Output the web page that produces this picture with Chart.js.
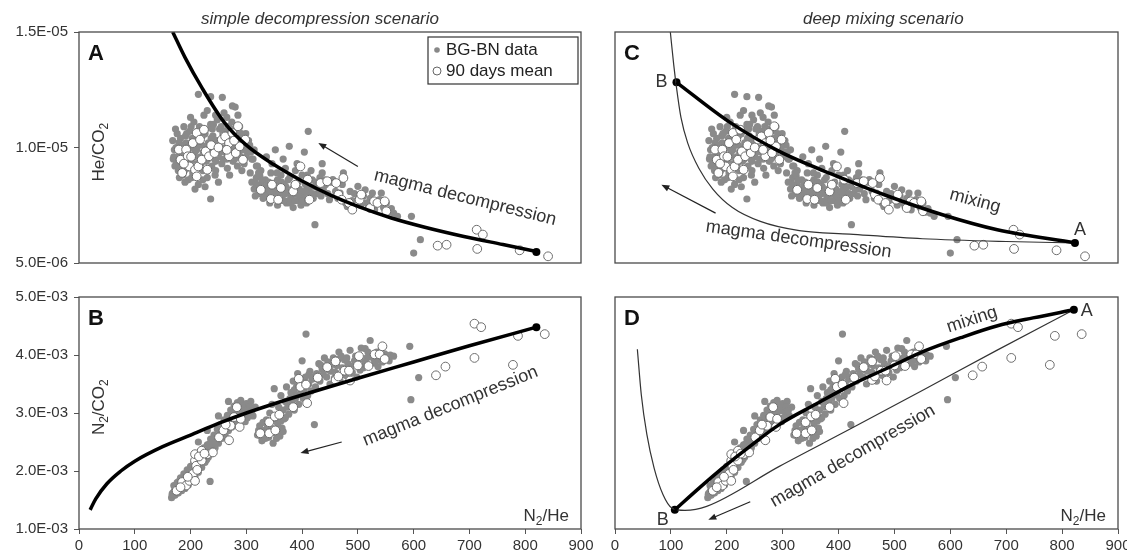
<!DOCTYPE html>
<html>
<head>
<meta charset="utf-8">
<script src="https://cdn.jsdelivr.net/npm/chart.js@4.4.1/dist/chart.umd.min.js"></script>
<style>
  html, body { margin: 0; padding: 0; background: #fff; overflow: hidden; }
  .panel { position: absolute; left: 0; top: 0; width: 1160px; height: 553px; }
</style>
</head>
<body>
<div class="panel"><canvas id="panelA" width="1160" height="553"></canvas></div>
<div class="panel"><canvas id="panelB" width="1160" height="553"></canvas></div>
<div class="panel"><canvas id="panelC" width="1160" height="553"></canvas></div>
<div class="panel"><canvas id="panelD" width="1160" height="553"></canvas></div>
<script>
// ---- axes ----
const xTicks = [0, 100, 200, 300, 400, 500, 600, 700, 800, 900];
const heTicks = [5, 10, 15];                       // He/CO2 in units of 1E-06
const heTickLabels = ['5.0E-06', '1.0E-05', '1.5E-05'];
const n2Ticks = [1, 2, 3, 4, 5];                   // N2/CO2 in units of 1E-03
const n2TickLabels = ['1.0E-03', '2.0E-03', '3.0E-03', '4.0E-03', '5.0E-03'];

// ---- BG-BN data, He/CO2 vs N2/He (top panels) ----
const bgbnN2HeTop = [168,170,172,174,176,178,180,182,184,186,
  188,190,192,194,196,198,200,202,204,206,
  208,210,212,214,216,218,220,222,224,226,
  228,230,232,234,236,238,240,242,244,246,
  248,250,252,254,256,258,260,262,264,266,
  268,270,272,274,276,278,280,282,284,286,
  288,290,293,296,299,302,306,310,314,318,
  214,236,257,280,236,208,190,270,250,226,
  200,230,245,265,285,275,
  171,175,179,183,187,191,195,199,203,207,
  211,215,219,223,227,231,235,239,243,247,
  251,255,259,263,267,271,275,279,283,287,291,295,
  307,310,314,318,320,322,326,330,334,336,
  338,342,344,346,350,352,354,356,358,362,
  364,366,368,372,374,377,378,380,384,386,
  388,391,392,395,398,400,402,404,406,408,
  411,412,416,418,420,423,424,428,432,436,438,
  316,324,332,340,348,356,360,370,376,382,390,396,410,414,326,312,346,370,
  436,442,446,449,452,455,460,464,468,472,
  474,478,481,486,490,494,500,500,505,510,
  513,516,519,522,526,530,534,539,542,546,
  551,556,560,564,571,596,612,600,
  169,173,177,181,185,189,193,197,201,205,
  209,213,217,221,225,229,233,237,241,245,
  249,253,257,261,265,269,273,277,281,285,
  289,292,297,300,304,308,180,202,222,245,
  318,322,328,333,338,343,347,352,355,359,
  363,367,371,375,379,383,387,393,397,401,
  405,409,415,419,425,430,434,440];
const bgbnHeCO2 = [10.3,9.6,9.2,10.0,10.6,9.0,9.9,10.4,9.4,8.8,
  10.9,9.7,10.2,9.1,8.6,10.7,9.5,10.0,8.9,11.1,
  9.8,10.4,9.3,8.4,10.9,9.6,10.1,9.0,11.4,10.6,
  9.4,8.7,10.2,9.8,11.0,9.2,10.5,9.9,8.8,10.3,
  11.2,9.6,10.8,10.0,9.3,10.6,11.5,9.8,10.3,9.1,
  10.9,9.7,10.4,11.1,9.4,10.1,10.7,9.9,9.2,10.4,
  10.9,9.6,10.2,9.3,10.6,9.8,10.1,9.5,9.9,9.2,
  12.3,12.2,12.17,11.75,7.77,8.2,8.5,8.8,8.5,8.3,
  11.3,11.6,11.4,11.3,11.4,11.8,
  9.9,9.3,10.2,9.7,9.3,10.5,9.8,9.2,10.4,9.6,
  9.9,10.2,9.3,9.8,10.8,9.5,10.0,10.8,9.5,9.9,
  10.3,10.9,9.5,10.0,9.6,10.8,10.3,9.5,10.0,9.8,10.6,9.9,
  8.9,8.5,8.2,8.7,9.2,8.0,8.4,7.8,8.6,9.6,
  8.1,7.6,8.9,8.3,7.9,9.9,8.5,7.5,8.2,8.8,
  7.8,9.5,8.4,7.6,8.1,10.05,8.7,7.9,7.4,8.4,
  9.0,9.3,7.7,8.2,7.5,8.8,7.9,9.8,8.4,7.6,
  10.7,8.1,9.0,8.6,7.8,6.66,8.3,8.0,8.7,9.3,8.2,
  7.9,8.8,8.2,8.5,8.0,8.6,7.7,8.0,7.7,8.2,8.0,7.8,8.3,7.9,9.0,9.5,9.3,9.1,
  8.9,8.4,8.0,7.74,8.5,8.61,8.1,7.8,8.03,8.4,
  8.9,7.6,7.45,8.1,7.7,8.0,8.32,7.74,7.5,7.9,
  8.17,7.6,7.45,7.8,8.03,7.3,7.6,7.74,8.03,7.4,
  7.6,7.2,7.35,7.16,7.02,7.02,6.01,5.43,
  9.5,10.8,9.6,9.1,10.1,9.0,10.6,9.4,10.9,9.3,
  10.1,10.7,9.1,10.5,9.6,10.0,9.1,10.4,11.0,9.4,
  10.1,9.8,10.3,10.7,9.5,10.2,9.9,10.8,9.6,10.0,
  10.3,9.0,10.0,9.6,10.3,9.8,8.7,8.7,8.6,9.0,
  8.4,8.9,8.6,7.9,8.4,8.1,7.8,8.2,8.9,8.0,
  8.5,7.7,8.3,8.6,7.6,8.0,7.7,8.5,8.1,7.7,
  8.1,8.8,8.3,8.0,8.5,8.2,7.9,8.6];

// ---- 90 days mean, He/CO2 vs N2/He ----
const meanN2HeTop = [179,182,185,192,195,198,204,208,211,211,
  214,217,220,224,227,230,233,243,256,262,
  269,269,275,281,285,288,294,298,188,201,
  237,250,265,278,
  326,344,346,357,362,384,388,397,410,413,
  433,445,461,465,471,474,484,490,503,506,
  522,529,535,548,551,643,659,713,724,714,790,841];
const meanHeCO2 = [9.91,9.47,8.90,9.91,9.62,9.18,10.19,9.04,10.63,8.75,
  9.18,10.34,9.47,10.77,9.83,9.04,9.62,9.76,10.34,10.48,
  10.19,9.62,10.63,9.76,10.92,10.05,9.47,10.34,9.3,9.6,
  10.1,10.0,9.9,10.3,
  8.17,7.77,8.39,7.74,8.25,8.10,8.39,9.18,8.61,7.74,
  8.46,8.54,8.46,7.96,7.74,8.68,7.60,7.31,7.74,7.96,
  7.38,7.67,7.60,7.67,7.24,5.75,5.79,6.44,6.23,5.61,5.55,5.29];

// ---- BG-BN data, N2/CO2 vs N2/He (bottom panels) ----
const bgbnN2HeBottom = [166,168,170,172,174,176,178,180,182,184,
  186,188,190,192,194,196,198,200,202,204,
  206,208,210,212,214,216,218,220,222,224,
  226,228,230,232,234,236,238,240,242,244,
  246,248,250,252,254,256,258,260,262,264,
  266,268,270,272,274,276,278,280,282,284,
  286,288,290,292,295,298,300,304,308,312,316,
  235,214,230,268,250,
  320,324,328,332,336,340,344,348,352,356,360,364,368,
  342,346,350,354,358,362,366,370,372,376,
  378,380,384,386,388,390,392,394,396,398,
  400,402,404,406,407,410,412,414,416,418,
  422,424,426,430,432,436,440,
  444,446,450,452,456,458,462,466,468,472,
  476,478,482,486,490,494,498,502,506,510,
  513,516,520,522,526,530,534,538,544,548,
  552,558,564,593,609,595,
  167,171,173,177,179,183,187,189,193,197,
  199,203,207,209,213,217,219,223,227,229,
  233,237,241,245,249,253,257,261,265,269,
  273,277,281,285,289,293,297,302,306,310,
  322,326,330,334,338,346,350,354,358,362,
  366,370,374,378,382,386,390,394,398,402,
  408,412,420,428,434,438,
  448,454,460,464,470,474,480,488,496,504,512,518,528,536,542,556];
const bgbnN2CO2 = [1.54,1.62,1.75,1.58,1.68,1.80,1.62,1.72,1.88,1.66,
  1.78,1.95,1.70,1.84,2.02,1.76,1.92,2.08,1.86,2.00,
  2.15,1.90,2.05,2.24,1.98,2.14,2.32,2.06,2.22,2.40,
  2.15,2.30,2.45,2.24,2.38,2.55,2.30,2.46,2.62,2.40,
  2.55,2.72,2.48,2.62,2.80,2.56,2.70,2.88,2.62,2.78,
  2.96,2.70,2.85,3.05,2.76,2.92,3.12,2.80,2.98,3.18,
  2.88,3.04,3.22,2.92,3.10,2.85,3.16,3.02,3.20,2.95,3.10,
  1.82,2.5,2.7,3.2,2.95,
  2.62,2.78,2.52,2.70,2.88,2.58,2.75,2.48,2.66,2.82,2.60,2.74,2.90,
  3.0,3.15,3.42,2.95,3.10,3.30,3.05,3.20,3.45,2.98,
  3.12,3.35,3.55,3.05,3.25,3.45,3.68,3.15,3.32,3.50,
  3.90,3.25,3.42,3.62,4.36,3.30,3.50,3.72,3.38,3.58,
  2.80,3.45,3.68,3.85,3.55,3.75,3.95,
  3.62,3.88,3.50,3.72,3.95,3.60,3.82,4.05,3.55,3.78,
  3.92,3.65,3.85,4.08,3.70,3.90,3.62,3.85,4.12,3.78,
  4.11,3.95,3.82,4.25,3.98,3.86,4.05,3.92,3.88,4.02,
  3.95,4.0,3.98,4.15,3.61,3.23,
  1.60,1.66,1.74,1.70,1.82,1.76,1.86,1.74,1.92,1.84,
  2.00,1.94,2.06,2.18,2.08,2.22,2.12,2.30,2.36,2.20,
  2.46,2.40,2.54,2.48,2.60,2.70,2.64,2.76,2.70,2.90,
  2.86,3.00,2.92,3.06,2.98,3.12,3.04,2.92,3.10,3.04,
  2.70,2.60,2.84,2.56,2.76,2.66,2.90,2.56,2.70,2.86,
  2.68,2.92,3.10,3.25,3.18,3.40,3.30,3.52,3.36,3.58,
  3.48,3.66,3.62,3.58,3.82,3.66,
  3.74,3.84,3.70,3.92,3.98,3.68,3.95,3.80,3.98,3.74,3.88,4.05,3.94,3.80,4.10,3.90];

// ---- 90 days mean, N2/CO2 vs N2/He ----
const meanN2HeBottom = [175,185,192,198,204,208,208,208,210,220,
  220,230,240,251,259,269,272,278,283,288,
  182,195,215,225,263,290,212,
  325,341,341,351,352,359,384,394,397,407,
  409,428,445,460,460,465,476,484,486,500,
  502,519,530,539,544,548,640,657,709,709,
  721,787,778,835];
const meanN2CO2 = [1.66,1.81,1.75,1.83,1.95,1.83,2.18,2.29,2.09,2.18,
  2.35,2.29,2.32,2.58,2.70,2.53,2.78,2.93,3.10,2.76,
  1.72,1.90,2.25,2.30,2.80,2.90,2.02,
  2.65,2.65,2.84,2.94,2.70,2.97,3.10,3.59,3.45,3.49,
  3.17,3.61,3.79,3.89,3.57,3.63,3.73,3.73,3.56,3.82,
  3.98,3.81,4.01,4.01,4.15,3.93,3.65,3.80,3.95,4.54,
  4.48,4.33,3.83,4.36];

// ---- model curves ----
const decompAx = [168, 190, 220, 260, 300, 350, 400, 450, 500, 560, 620, 690, 760, 820];
const decompAy = [15.0, 13.9, 12.6, 11.1, 10.1, 9.25, 8.55, 7.95, 7.45, 6.95, 6.55, 6.15, 5.8, 5.5];
const decompBx = [20, 30, 50, 75, 100, 150, 200, 250, 300, 350, 400, 500, 600, 700, 820];
const decompBy = [1.33, 1.52, 1.78, 2.0, 2.17, 2.42, 2.62, 2.82, 3.0, 3.16, 3.31, 3.6, 3.88, 4.16, 4.48];
const mixCx = [110, 203, 294, 398, 489, 586, 684, 823];
const mixCy = [12.82, 11.13, 9.83, 8.75, 7.89, 7.09, 6.44, 5.87];
const decompCx = [99, 105, 110, 118, 130, 150, 175, 210, 260, 330, 420, 550, 700, 823];
const decompCy = [15.0, 13.6, 12.6, 11.3, 10.2, 9.1, 8.2, 7.4, 6.8, 6.4, 6.25, 6.05, 5.93, 5.87];
const mixDx = [107, 151, 196, 242, 294, 359, 424, 489, 554, 619, 683, 748, 821];
const mixDy = [1.33, 1.71, 2.08, 2.43, 2.80, 3.15, 3.49, 3.78, 4.07, 4.30, 4.50, 4.64, 4.78];
const decompDx = [40, 47, 57, 70, 86, 102, 125, 164, 294, 424, 554, 683, 821];
const decompDy = [4.10, 3.32, 2.63, 2.05, 1.59, 1.36, 1.32, 1.39, 2.08, 2.74, 3.41, 4.08, 4.78];

// end-members
const endA_top = { x: 820, y: 5.48 };
const endA_bottom = { x: 820, y: 4.48 };
const endC = [{ x: 110, y: 12.82 }, { x: 823, y: 5.87 }];
const endD = [{ x: 107, y: 1.33 }, { x: 821, y: 4.78 }];

const FONT = '"Liberation Sans", Arial, Helvetica, sans-serif';
Chart.defaults.font.family = FONT;
Chart.defaults.color = '#333';

function pts(xs, ys) {
  return xs.map((x, i) => ({ x: x, y: ys[i] }));
}

// text with optional subscripts, centred on (cx, cy)
function richText(ctx, parts, size, cx, cy, rot, align) {
  ctx.save();
  ctx.translate(cx, cy);
  ctx.rotate((rot || 0) * Math.PI / 180);
  ctx.textAlign = 'left';
  ctx.textBaseline = 'alphabetic';
  const fontOf = p => (p[1] ? Math.round(size * 0.68) : size) + 'px ' + FONT;
  const widths = parts.map(p => { ctx.font = fontOf(p); return ctx.measureText(p[0]).width; });
  const total = widths.reduce((a, b) => a + b, 0);
  let x = align === 'right' ? -total : -total / 2;
  parts.forEach((p, i) => {
    ctx.font = fontOf(p);
    ctx.fillText(p[0], x, size * 0.36 + (p[1] ? size * 0.24 : 0));
    x += widths[i];
  });
  ctx.restore();
}

function arrow(ctx, x1, y1, x2, y2) {
  const ang = Math.atan2(y2 - y1, x2 - x1), L = 8, W = 3.2;
  ctx.beginPath();
  ctx.moveTo(x1, y1);
  ctx.lineTo(x2 - Math.cos(ang) * L * 0.7, y2 - Math.sin(ang) * L * 0.7);
  ctx.stroke();
  ctx.beginPath();
  ctx.moveTo(x2, y2);
  ctx.lineTo(x2 - L * Math.cos(ang) + W * Math.sin(ang), y2 - L * Math.sin(ang) - W * Math.cos(ang));
  ctx.lineTo(x2 - L * Math.cos(ang) - W * Math.sin(ang), y2 - L * Math.sin(ang) + W * Math.cos(ang));
  ctx.closePath();
  ctx.fill();
}

// frame, panel letter, titles, labels, arrows, legend
const panelDecor = {
  id: 'panelDecor',
  afterDatasetsDraw(chart, args, o) {
    const { ctx, chartArea: a } = chart;
    const sx = chart.scales.x, sy = chart.scales.y;
    ctx.save();
    ctx.strokeStyle = '#4a4a4a';
    ctx.lineWidth = 1.3;
    ctx.strokeRect(a.left, a.top, a.right - a.left, a.bottom - a.top);

    ctx.fillStyle = '#111';
    ctx.font = 'bold 22px ' + FONT;
    ctx.textAlign = 'left';
    ctx.textBaseline = 'alphabetic';
    ctx.fillText(o.letter, a.left + 9, a.top + 28);

    ctx.fillStyle = '#333';
    if (o.title) {
      ctx.font = 'italic 17px ' + FONT;
      ctx.textAlign = 'center';
      ctx.fillText(o.title.text, sx.getPixelForValue(o.title.x), a.top - 8);
    }
    if (o.yTitle) richText(ctx, o.yTitle.parts, 17, a.left + 19, sy.getPixelForValue(o.yTitle.y), -90);
    if (o.xTitle) richText(ctx, o.xTitle, 17, a.right - 12, a.bottom - 14, 0, 'right');

    (o.texts || []).forEach(t => {
      richText(ctx, [[t.text, false]], t.size || 18,
        sx.getPixelForValue(t.x) + (t.dx || 0), sy.getPixelForValue(t.y) + (t.dy || 0), t.rot || 0);
    });

    ctx.strokeStyle = '#222';
    ctx.fillStyle = '#222';
    ctx.lineWidth = 1.2;
    (o.arrows || []).forEach(r => {
      arrow(ctx, sx.getPixelForValue(r.from[0]), sy.getPixelForValue(r.from[1]),
        sx.getPixelForValue(r.to[0]), sy.getPixelForValue(r.to[1]));
    });

    if (o.legend) {
      const R = a.right - 3, T = a.top + 5, W = 150, H = 47, Lx = R - W;
      ctx.fillStyle = '#fff';
      ctx.fillRect(Lx, T, W, H);
      ctx.strokeStyle = '#333';
      ctx.lineWidth = 1.2;
      ctx.strokeRect(Lx, T, W, H);
      ctx.fillStyle = '#888';
      ctx.beginPath(); ctx.arc(Lx + 9, T + 13, 2.8, 0, Math.PI * 2); ctx.fill();
      ctx.fillStyle = '#fff';
      ctx.strokeStyle = '#666';
      ctx.lineWidth = 1;
      ctx.beginPath(); ctx.arc(Lx + 9, T + 34, 4, 0, Math.PI * 2); ctx.fill(); ctx.stroke();
      ctx.fillStyle = '#222';
      ctx.font = '17px ' + FONT;
      ctx.textAlign = 'left';
      ctx.textBaseline = 'middle';
      ctx.fillText('BG-BN data', Lx + 18, T + 13);
      ctx.fillText('90 days mean', Lx + 18, T + 34);
    }
    ctx.restore();
  }
};

function curveDs(xs, ys, width, color) {
  return {
    type: 'line', data: pts(xs, ys), borderColor: color, borderWidth: width,
    pointRadius: 0, cubicInterpolationMode: 'monotone', fill: false
  };
}
function grayDs(xs, ys) {
  return { data: pts(xs, ys), pointRadius: 3.6, backgroundColor: '#8a8a8a', borderWidth: 0 };
}
function meanDs(xs, ys) {
  return { data: pts(xs, ys), pointRadius: 4.4, backgroundColor: '#fff', borderColor: '#6e6e6e', borderWidth: 1 };
}
function endDs(points) {
  return { data: points, pointRadius: 4, backgroundColor: '#000', borderWidth: 0 };
}

function xScale(showTicks) {
  return {
    type: 'linear', min: 0, max: 900, display: showTicks,
    afterBuildTicks: s => { s.ticks = xTicks.map(v => ({ value: v })); },
    afterFit: s => { if (showTicks) s.height = 24; },
    ticks: { font: { size: 15 }, color: '#333', padding: 3, maxRotation: 0 },
    grid: { drawOnChartArea: false, tickLength: 5, color: '#555' },
    border: { display: false }
  };
}
function yScale(min, max, vals, labels, showTicks) {
  return {
    type: 'linear', min: min, max: max, display: showTicks,
    afterBuildTicks: s => { s.ticks = vals.map(v => ({ value: v })); },
    afterFit: s => { if (showTicks) s.width = 79; },
    ticks: { font: { size: 15 }, color: '#333', padding: 6, callback: (v, i) => labels[i] },
    grid: { drawOnChartArea: false, tickLength: 5, color: '#555' },
    border: { display: false }
  };
}

function makePanel(id, datasets, scales, padding, decor) {
  new Chart(document.getElementById(id), {
    type: 'scatter',
    data: { datasets: datasets },
    options: {
      responsive: false, animation: false, events: [],
      layout: { padding: padding },
      scales: scales,
      plugins: { legend: { display: false }, tooltip: { enabled: false }, panelDecor: decor }
    },
    plugins: [panelDecor]
  });
}

const subN2CO2 = [['N', false], ['2', true], ['/CO', false], ['2', true]];
const subN2He = [['N', false], ['2', true], ['/He', false]];

// A: simple decompression, He/CO2
makePanel('panelA',
  [curveDs(decompAx, decompAy, 3.5, '#000'), endDs([endA_top]),
   meanDs(meanN2HeTop, meanHeCO2), grayDs(bgbnN2HeTop, bgbnHeCO2)],
  { x: xScale(false), y: yScale(5, 15, heTicks, heTickLabels, true) },
  { left: 0, top: 32, right: 1160 - 581, bottom: 553 - 263 },
  {
    letter: 'A', legend: true,
    title: { text: 'simple decompression scenario', x: 432 },
    yTitle: { parts: [['He/CO', false], ['2', true]], y: 9.8 },
    texts: [{ text: 'magma decompression', x: 693, y: 7.89, rot: 14 }],
    arrows: [{ from: [500, 9.18], to: [429, 10.2] }]
  });

// B: simple decompression, N2/CO2
makePanel('panelB',
  [curveDs(decompBx, decompBy, 3.5, '#000'), endDs([endA_bottom]),
   meanDs(meanN2HeBottom, meanN2CO2), grayDs(bgbnN2HeBottom, bgbnN2CO2)],
  { x: xScale(true), y: yScale(1, 5, n2Ticks, n2TickLabels, true) },
  { left: 0, top: 297, right: 1160 - 581, bottom: 0 },
  {
    letter: 'B',
    yTitle: { parts: subN2CO2, y: 3.1 },
    xTitle: subN2He,
    texts: [{ text: 'magma decompression', x: 665, y: 3.14, rot: -22 }],
    arrows: [{ from: [471, 2.50], to: [397, 2.31] }]
  });

// C: deep mixing, He/CO2
makePanel('panelC',
  [curveDs(mixCx, mixCy, 3.5, '#000'), curveDs(decompCx, decompCy, 1.2, '#333'), endDs(endC),
   meanDs(meanN2HeTop, meanHeCO2), grayDs(bgbnN2HeTop, bgbnHeCO2)],
  { x: xScale(false), y: yScale(5, 15, heTicks, heTickLabels, false) },
  { left: 615, top: 32, right: 1160 - 1118, bottom: 553 - 263 },
  {
    letter: 'C',
    title: { text: 'deep mixing scenario', x: 480 },
    texts: [
      { text: 'mixing', x: 645, y: 7.53, rot: 15, dy: -5 },
      { text: 'magma decompression', x: 329, y: 6.08, rot: 8 },
      { text: 'B', x: 110, y: 12.82, dx: -15, dy: -2 },
      { text: 'A', x: 823, y: 5.87, dx: 5, dy: -14 }
    ],
    arrows: [{ from: [180, 7.16], to: [83, 8.39] }]
  });

// D: deep mixing, N2/CO2
makePanel('panelD',
  [curveDs(mixDx, mixDy, 3.5, '#000'), curveDs(decompDx, decompDy, 1.2, '#333'), endDs(endD),
   meanDs(meanN2HeBottom, meanN2CO2), grayDs(bgbnN2HeBottom, bgbnN2CO2)],
  { x: xScale(true), y: yScale(1, 5, n2Ticks, n2TickLabels, false) },
  { left: 615, top: 297, right: 1160 - 1118, bottom: 0 },
  {
    letter: 'D',
    xTitle: subN2He,
    texts: [
      { text: 'mixing', x: 638, y: 4.53, rot: -18, dy: -6 },
      { text: 'magma decompression', x: 424, y: 2.28, rot: -30 },
      { text: 'B', x: 107, y: 1.33, dx: -12, dy: 9 },
      { text: 'A', x: 821, y: 4.78, dx: 13, dy: 0 }
    ],
    arrows: [{ from: [242, 1.47], to: [167, 1.16] }]
  });
</script>
</body>
</html>
